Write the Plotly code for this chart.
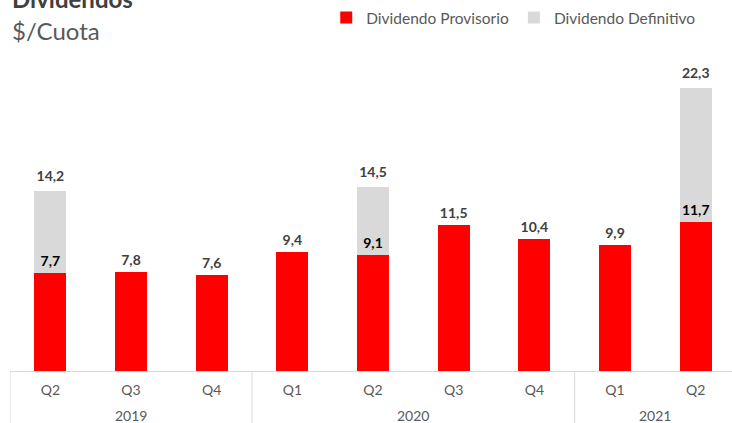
import plotly.graph_objects as go

years = ["2019", "2019", "2019", "2020", "2020", "2020", "2020", "2021", "2021"]
quarters = ["Q2", "Q3", "Q4", "Q1", "Q2", "Q3", "Q4", "Q1", "Q2"]
provisorio = [7.7, 7.8, 7.6, 9.4, 9.1, 11.5, 10.4, 9.9, 11.7]
definitivo = [6.5, 0, 0, 0, 5.4, 0, 0, 0, 10.6]

def fmt(v):
    return f"{v:.1f}".replace(".", ",")

xs = list(range(len(quarters)))
totals = [p + d for p, d in zip(provisorio, definitivo)]

FONT = "Lato"
GRID = "#D9D9D9"
TXT = "#595959"
fig = go.Figure()
fig.add_trace(go.Bar(x=xs, y=provisorio, name="Dividendo Provisorio",
                     marker_color="#FF0000", marker_line_width=0, width=0.4))
fig.add_trace(go.Bar(x=xs, y=definitivo, name="Dividendo Definitivo",
                     marker_color="#D9D9D9", marker_line_width=0, width=0.4))

# labels on red bars
fig.add_trace(go.Scatter(
    x=xs, y=provisorio, mode="markers+text",
    text=[fmt(v) for v in provisorio], textposition="top center",
    marker=dict(size=4, opacity=0),
    textfont=dict(family=FONT, size=14, weight="bold",
                  color=["#000000" if d > 0 else "#404040" for d in definitivo]),
    showlegend=False, hoverinfo="skip", cliponaxis=False))

# total labels on stacked bars
sx = [x for x, d in zip(xs, definitivo) if d > 0]
sy = [t for t, d in zip(totals, definitivo) if d > 0]
fig.add_trace(go.Scatter(
    x=sx, y=sy, mode="markers+text",
    text=[fmt(v) for v in sy], textposition="top center",
    marker=dict(size=8, opacity=0),
    textfont=dict(family=FONT, size=14, weight="bold", color="#404040"),
    showlegend=False, hoverinfo="skip", cliponaxis=False))

# year groups: labels and dividers
groups = []
for i, y in enumerate(years):
    if not groups or groups[-1][0] != y:
        groups.append([y, i, i])
    else:
        groups[-1][2] = i

PLOT_H = 311
shapes = []
annotations = []
for g, (y, a, b) in enumerate(groups):
    annotations.append(dict(text=y, x=(a + b) / 2, xref="x", y=-44 / PLOT_H, yref="paper",
                            xanchor="center", yanchor="middle", showarrow=False,
                            font=dict(family=FONT, size=14, color=TXT)))
    shapes.append(dict(type="line", xref="x", yref="paper", x0=a - 0.5, x1=a - 0.5,
                       y0=0, y1=-60 / PLOT_H, line=dict(color=GRID, width=1)))

annotations += [
    dict(text="<b>Dividendos</b>", xref="paper", yref="paper", x=0, y=(371 + 2) / PLOT_H,
         xanchor="left", yanchor="middle", showarrow=False,
         font=dict(family=FONT, size=24, color="#404040")),
    dict(text="$/Cuota", xref="paper", yref="paper", x=0, y=(371 - 30) / PLOT_H,
         xanchor="left", yanchor="middle", showarrow=False,
         font=dict(family=FONT, size=24, color=TXT)),
]

fig.update_layout(
    width=732, height=423,
    barmode="stack",
    plot_bgcolor="white", paper_bgcolor="white",
    margin=dict(l=10, r=0, t=60, b=52),
    font=dict(family=FONT, color=TXT),
    legend=dict(orientation="h", x=0.438, y=(371 - 18) / PLOT_H, xanchor="left", yanchor="middle",
                font=dict(family=FONT, size=15.5, color=TXT),
                traceorder="normal", bgcolor="rgba(0,0,0,0)"),
    xaxis=dict(range=[-0.5, 8.45], tickmode="array", tickvals=xs, ticktext=quarters,
               showline=True, linecolor=GRID, linewidth=1, zeroline=False,
               tickfont=dict(family=FONT, size=14, color=TXT),
               ticks="", ticklabelstandoff=6, showgrid=False),
    yaxis=dict(range=[0, 24.5], visible=False, showgrid=False),
    shapes=shapes,
    annotations=annotations,
)

fig.write_html("out.html", config={"displayModeBar": False},
               post_script="document.body.style.margin='0';")
